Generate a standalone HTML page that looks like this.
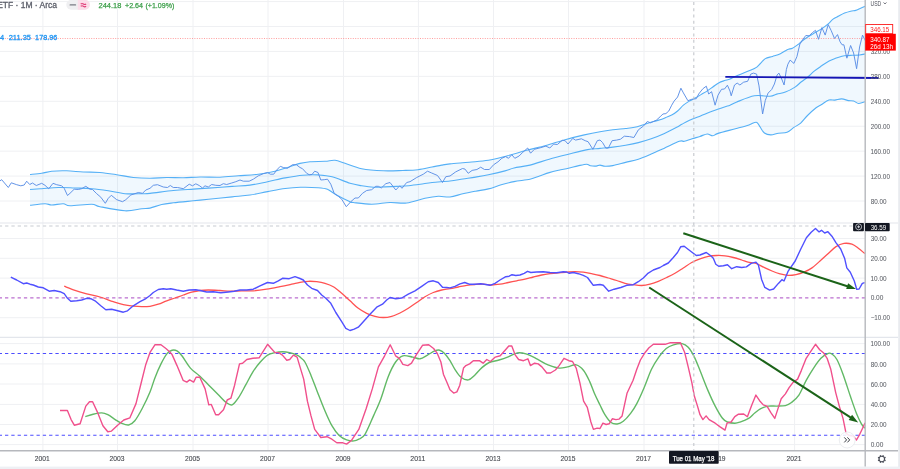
<!DOCTYPE html><html><head><meta charset="utf-8"><title>Chart</title><style>html,body{margin:0;padding:0;background:#fff;overflow:hidden;}svg{display:block;}text{font-family:"Liberation Sans",Arial,sans-serif;white-space:pre;}</style></head><body>
<svg width="900" height="469" viewBox="0 0 900 469">
<defs><clipPath id="cp"><rect x="0" y="0" width="865" height="223"/></clipPath><clipPath id="cm"><rect x="0" y="223.5" width="865" height="113.5"/></clipPath><clipPath id="cb"><rect x="0" y="337.8" width="865" height="112.5"/></clipPath></defs>
<rect x="0" y="0" width="900" height="469" fill="#ffffff"/>
<line x1="42.9" y1="0" x2="42.9" y2="450.8" stroke="#eff0f3" stroke-width="1"/>
<line x1="117.5" y1="0" x2="117.5" y2="450.8" stroke="#eff0f3" stroke-width="1"/>
<line x1="193.0" y1="0" x2="193.0" y2="450.8" stroke="#eff0f3" stroke-width="1"/>
<line x1="268.0" y1="0" x2="268.0" y2="450.8" stroke="#eff0f3" stroke-width="1"/>
<line x1="343.5" y1="0" x2="343.5" y2="450.8" stroke="#eff0f3" stroke-width="1"/>
<line x1="418.4" y1="0" x2="418.4" y2="450.8" stroke="#eff0f3" stroke-width="1"/>
<line x1="493.5" y1="0" x2="493.5" y2="450.8" stroke="#eff0f3" stroke-width="1"/>
<line x1="568.5" y1="0" x2="568.5" y2="450.8" stroke="#eff0f3" stroke-width="1"/>
<line x1="644.0" y1="0" x2="644.0" y2="450.8" stroke="#eff0f3" stroke-width="1"/>
<line x1="718.7" y1="0" x2="718.7" y2="450.8" stroke="#eff0f3" stroke-width="1"/>
<line x1="794.6" y1="0" x2="794.6" y2="450.8" stroke="#eff0f3" stroke-width="1"/>
<line x1="0" y1="1.57" x2="865.2" y2="1.57" stroke="#eff0f3" stroke-width="1"/>
<line x1="0" y1="26.50" x2="865.2" y2="26.50" stroke="#eff0f3" stroke-width="1"/>
<line x1="0" y1="51.43" x2="865.2" y2="51.43" stroke="#eff0f3" stroke-width="1"/>
<line x1="0" y1="76.36" x2="865.2" y2="76.36" stroke="#eff0f3" stroke-width="1"/>
<line x1="0" y1="101.29" x2="865.2" y2="101.29" stroke="#eff0f3" stroke-width="1"/>
<line x1="0" y1="126.22" x2="865.2" y2="126.22" stroke="#eff0f3" stroke-width="1"/>
<line x1="0" y1="151.15" x2="865.2" y2="151.15" stroke="#eff0f3" stroke-width="1"/>
<line x1="0" y1="176.08" x2="865.2" y2="176.08" stroke="#eff0f3" stroke-width="1"/>
<line x1="0" y1="201.01" x2="865.2" y2="201.01" stroke="#eff0f3" stroke-width="1"/>
<line x1="0" y1="238.50" x2="865.2" y2="238.50" stroke="#eff0f3" stroke-width="1"/>
<line x1="0" y1="258.30" x2="865.2" y2="258.30" stroke="#eff0f3" stroke-width="1"/>
<line x1="0" y1="278.10" x2="865.2" y2="278.10" stroke="#eff0f3" stroke-width="1"/>
<line x1="0" y1="317.70" x2="865.2" y2="317.70" stroke="#eff0f3" stroke-width="1"/>
<line x1="0" y1="343.60" x2="865.2" y2="343.60" stroke="#eff0f3" stroke-width="1"/>
<line x1="0" y1="363.90" x2="865.2" y2="363.90" stroke="#eff0f3" stroke-width="1"/>
<line x1="0" y1="384.00" x2="865.2" y2="384.00" stroke="#eff0f3" stroke-width="1"/>
<line x1="0" y1="404.40" x2="865.2" y2="404.40" stroke="#eff0f3" stroke-width="1"/>
<line x1="0" y1="424.50" x2="865.2" y2="424.50" stroke="#eff0f3" stroke-width="1"/>
<line x1="0" y1="444.60" x2="865.2" y2="444.60" stroke="#eff0f3" stroke-width="1"/>
<line x1="0" y1="223.0" x2="898" y2="223.0" stroke="#e3e6ec" stroke-width="1.2"/>
<line x1="0" y1="337.3" x2="898" y2="337.3" stroke="#e3e6ec" stroke-width="1.2"/>
<g clip-path="url(#cp)">
<path d="M30.00,174.50 C31.95,174.30 38.08,173.85 41.70,173.30 C45.32,172.75 47.53,171.62 51.70,171.20 C55.87,170.78 61.43,170.67 66.70,170.80 C71.97,170.93 77.75,171.72 83.30,172.00 C88.85,172.28 94.43,172.05 100.00,172.50 C105.57,172.95 111.15,173.87 116.70,174.70 C122.25,175.53 127.75,176.90 133.30,177.50 C138.85,178.10 144.43,178.30 150.00,178.30 C155.57,178.30 161.15,177.58 166.70,177.50 C172.25,177.42 177.75,177.88 183.30,177.80 C188.85,177.72 193.88,177.10 200.00,177.00 C206.12,176.90 213.62,177.40 220.00,177.20 C226.38,177.00 231.92,176.30 238.30,175.80 C244.68,175.30 252.18,174.97 258.30,174.20 C264.42,173.43 270.00,172.37 275.00,171.20 C280.00,170.03 284.13,168.50 288.30,167.20 C292.47,165.90 296.38,164.32 300.00,163.40 C303.62,162.48 305.83,162.05 310.00,161.70 C314.17,161.35 320.83,161.53 325.00,161.30 C329.17,161.07 331.67,159.97 335.00,160.30 C338.33,160.63 340.55,161.90 345.00,163.30 C349.45,164.70 355.32,167.45 361.70,168.70 C368.08,169.95 376.45,170.50 383.30,170.80 C390.15,171.10 397.02,170.68 402.80,170.50 C408.58,170.32 413.12,170.28 418.00,169.70 C422.88,169.12 428.15,167.77 432.10,167.00 C436.05,166.23 438.72,165.62 441.70,165.10 C444.68,164.58 445.42,164.38 450.00,163.90 C454.58,163.42 462.80,162.80 469.20,162.20 C475.60,161.60 482.02,161.38 488.40,160.30 C494.78,159.22 501.12,157.37 507.50,155.70 C513.88,154.03 520.30,152.00 526.70,150.30 C533.10,148.60 539.50,147.27 545.90,145.50 C552.30,143.73 558.70,141.47 565.10,139.70 C571.50,137.93 578.48,136.23 584.30,134.90 C590.12,133.57 595.25,132.55 600.00,131.70 C604.75,130.85 608.53,130.33 612.80,129.80 C617.07,129.27 621.98,128.92 625.60,128.50 C629.22,128.08 631.52,127.93 634.50,127.30 C637.48,126.67 640.30,125.67 643.50,124.70 C646.70,123.73 650.95,122.32 653.70,121.50 C656.45,120.68 657.97,120.47 660.00,119.80 C662.03,119.13 663.95,118.28 665.90,117.50 C667.85,116.72 669.75,116.18 671.70,115.10 C673.65,114.02 675.65,112.65 677.60,111.00 C679.55,109.35 681.45,106.85 683.40,105.20 C685.35,103.55 687.33,102.28 689.30,101.10 C691.27,99.92 693.25,99.18 695.20,98.10 C697.15,97.02 699.05,95.77 701.00,94.60 C702.95,93.43 704.93,92.37 706.90,91.10 C708.87,89.83 710.85,88.37 712.80,87.00 C714.75,85.63 716.65,83.97 718.60,82.90 C720.55,81.83 722.60,81.23 724.50,80.60 C726.40,79.97 728.03,79.88 730.00,79.10 C731.97,78.32 732.23,77.65 736.30,75.90 C740.37,74.15 750.47,70.58 754.40,68.60 C758.33,66.62 758.08,65.67 759.90,64.00 C761.72,62.33 763.18,59.87 765.30,58.60 C767.42,57.33 770.08,57.22 772.60,56.40 C775.12,55.58 777.97,54.82 780.40,53.70 C782.83,52.58 785.20,50.62 787.20,49.70 C789.20,48.78 790.67,49.02 792.40,48.20 C794.13,47.38 795.98,46.00 797.60,44.80 C799.22,43.60 800.48,42.25 802.10,41.00 C803.72,39.75 805.18,38.67 807.30,37.30 C809.42,35.93 812.32,34.28 814.80,32.80 C817.28,31.32 819.97,29.88 822.20,28.40 C824.43,26.92 826.45,25.40 828.20,23.90 C829.95,22.40 830.95,20.70 832.70,19.40 C834.45,18.10 836.72,17.15 838.70,16.10 C840.68,15.05 842.62,13.92 844.60,13.10 C846.58,12.28 848.73,11.65 850.60,11.20 C852.47,10.75 854.30,10.82 855.80,10.40 C857.30,9.98 857.98,9.40 859.60,8.70 C861.22,8.00 864.52,6.62 865.50,6.20 L865.5,101.6 865.50,101.60 C864.37,101.92 860.68,103.60 858.70,103.50 C856.72,103.40 855.30,101.48 853.60,101.00 C851.90,100.52 850.48,100.95 848.50,100.60 C846.52,100.25 843.98,98.98 841.70,98.90 C839.42,98.82 836.93,99.90 834.80,100.10 C832.67,100.30 831.17,99.33 828.90,100.10 C826.63,100.87 823.33,103.42 821.20,104.70 C819.07,105.98 818.38,106.00 816.10,107.80 C813.82,109.60 810.07,112.95 807.50,115.50 C804.93,118.05 802.97,121.12 800.70,123.10 C798.43,125.08 796.17,125.87 793.90,127.40 C791.63,128.93 789.67,131.33 787.10,132.30 C784.53,133.27 781.22,132.77 778.50,133.20 C775.78,133.63 773.15,134.93 770.80,134.90 C768.45,134.87 766.22,134.37 764.40,133.00 C762.58,131.63 761.25,128.50 759.90,126.70 C758.55,124.90 758.12,122.50 756.30,122.20 C754.48,121.90 752.33,123.85 749.00,124.90 C745.67,125.95 741.45,127.08 736.30,128.50 C731.15,129.92 722.03,132.18 718.10,133.40 C714.17,134.62 714.50,135.70 712.70,135.80 C710.90,135.90 709.42,133.90 707.30,134.00 C705.18,134.10 702.53,135.60 700.00,136.40 C697.47,137.20 694.70,137.98 692.10,138.80 C689.50,139.62 686.53,140.88 684.40,141.30 C682.27,141.72 682.72,140.12 679.30,141.30 C675.88,142.48 668.58,146.27 663.90,148.40 C659.22,150.53 655.45,152.30 651.20,154.10 C646.95,155.90 642.67,157.82 638.40,159.20 C634.13,160.58 629.87,161.33 625.60,162.40 C621.33,163.47 616.22,164.95 612.80,165.60 C609.38,166.25 607.23,166.38 605.10,166.30 C602.97,166.22 601.48,165.13 600.00,165.10 C598.52,165.07 597.80,166.00 596.20,166.10 C594.60,166.20 592.00,166.02 590.40,165.70 C588.80,165.38 588.68,164.17 586.60,164.20 C584.52,164.23 580.93,165.22 577.90,165.90 C574.87,166.58 571.58,167.58 568.40,168.30 C565.22,169.02 562.00,169.48 558.80,170.20 C555.60,170.92 552.40,171.63 549.20,172.60 C546.00,173.57 542.80,174.88 539.60,176.00 C536.40,177.12 534.27,178.37 530.00,179.30 C525.73,180.23 518.80,180.68 514.00,181.60 C509.20,182.52 505.47,183.58 501.20,184.80 C496.93,186.02 492.67,187.83 488.40,188.90 C484.13,189.97 479.87,190.38 475.60,191.20 C471.33,192.02 467.07,192.83 462.80,193.80 C458.53,194.77 454.08,196.58 450.00,197.00 C445.92,197.42 442.47,196.08 438.30,196.30 C434.13,196.52 430.27,197.18 425.00,198.30 C419.73,199.42 412.53,202.30 406.70,203.00 C400.87,203.70 395.83,202.30 390.00,202.50 C384.17,202.70 377.82,204.20 371.70,204.20 C365.58,204.20 356.92,202.90 353.30,202.50 C349.68,202.10 352.95,203.13 350.00,201.80 C347.05,200.47 339.37,196.58 335.60,194.50 C331.83,192.42 330.33,190.43 327.40,189.30 C324.47,188.17 322.50,188.03 318.00,187.70 C313.50,187.37 305.87,187.17 300.40,187.30 C294.93,187.43 290.67,187.78 285.20,188.50 C279.73,189.22 273.47,190.52 267.60,191.60 C261.73,192.68 255.92,194.12 250.00,195.00 C244.08,195.88 239.00,196.18 232.10,196.90 C225.20,197.62 215.05,198.65 208.60,199.30 C202.15,199.95 199.27,200.22 193.40,200.80 C187.53,201.38 178.68,202.18 173.40,202.80 C168.12,203.42 165.60,203.62 161.70,204.50 C157.80,205.38 153.33,207.40 150.00,208.10 C146.67,208.80 145.87,208.25 141.70,208.70 C137.53,209.15 131.95,211.13 125.00,210.80 C118.05,210.47 105.55,207.80 100.00,206.70 C94.45,205.60 96.70,204.35 91.70,204.20 C86.70,204.05 74.73,205.88 70.00,205.80 C65.27,205.72 66.35,203.83 63.30,203.70 C60.25,203.57 54.75,205.00 51.70,205.00 C48.65,205.00 48.62,203.65 45.00,203.70 C41.38,203.75 32.50,205.03 30.00,205.30 Z" fill="#2196f3" fill-opacity="0.065"/>
<line x1="0" y1="38.5" x2="865.2" y2="38.5" stroke="#f66" stroke-opacity="0.7" stroke-width="0.9" stroke-dasharray="1 1.4"/>
<path d="M30.00,174.50 C31.95,174.30 38.08,173.85 41.70,173.30 C45.32,172.75 47.53,171.62 51.70,171.20 C55.87,170.78 61.43,170.67 66.70,170.80 C71.97,170.93 77.75,171.72 83.30,172.00 C88.85,172.28 94.43,172.05 100.00,172.50 C105.57,172.95 111.15,173.87 116.70,174.70 C122.25,175.53 127.75,176.90 133.30,177.50 C138.85,178.10 144.43,178.30 150.00,178.30 C155.57,178.30 161.15,177.58 166.70,177.50 C172.25,177.42 177.75,177.88 183.30,177.80 C188.85,177.72 193.88,177.10 200.00,177.00 C206.12,176.90 213.62,177.40 220.00,177.20 C226.38,177.00 231.92,176.30 238.30,175.80 C244.68,175.30 252.18,174.97 258.30,174.20 C264.42,173.43 270.00,172.37 275.00,171.20 C280.00,170.03 284.13,168.50 288.30,167.20 C292.47,165.90 296.38,164.32 300.00,163.40 C303.62,162.48 305.83,162.05 310.00,161.70 C314.17,161.35 320.83,161.53 325.00,161.30 C329.17,161.07 331.67,159.97 335.00,160.30 C338.33,160.63 340.55,161.90 345.00,163.30 C349.45,164.70 355.32,167.45 361.70,168.70 C368.08,169.95 376.45,170.50 383.30,170.80 C390.15,171.10 397.02,170.68 402.80,170.50 C408.58,170.32 413.12,170.28 418.00,169.70 C422.88,169.12 428.15,167.77 432.10,167.00 C436.05,166.23 438.72,165.62 441.70,165.10 C444.68,164.58 445.42,164.38 450.00,163.90 C454.58,163.42 462.80,162.80 469.20,162.20 C475.60,161.60 482.02,161.38 488.40,160.30 C494.78,159.22 501.12,157.37 507.50,155.70 C513.88,154.03 520.30,152.00 526.70,150.30 C533.10,148.60 539.50,147.27 545.90,145.50 C552.30,143.73 558.70,141.47 565.10,139.70 C571.50,137.93 578.48,136.23 584.30,134.90 C590.12,133.57 595.25,132.55 600.00,131.70 C604.75,130.85 608.53,130.33 612.80,129.80 C617.07,129.27 621.98,128.92 625.60,128.50 C629.22,128.08 631.52,127.93 634.50,127.30 C637.48,126.67 640.30,125.67 643.50,124.70 C646.70,123.73 650.95,122.32 653.70,121.50 C656.45,120.68 657.97,120.47 660.00,119.80 C662.03,119.13 663.95,118.28 665.90,117.50 C667.85,116.72 669.75,116.18 671.70,115.10 C673.65,114.02 675.65,112.65 677.60,111.00 C679.55,109.35 681.45,106.85 683.40,105.20 C685.35,103.55 687.33,102.28 689.30,101.10 C691.27,99.92 693.25,99.18 695.20,98.10 C697.15,97.02 699.05,95.77 701.00,94.60 C702.95,93.43 704.93,92.37 706.90,91.10 C708.87,89.83 710.85,88.37 712.80,87.00 C714.75,85.63 716.65,83.97 718.60,82.90 C720.55,81.83 722.60,81.23 724.50,80.60 C726.40,79.97 728.03,79.88 730.00,79.10 C731.97,78.32 732.23,77.65 736.30,75.90 C740.37,74.15 750.47,70.58 754.40,68.60 C758.33,66.62 758.08,65.67 759.90,64.00 C761.72,62.33 763.18,59.87 765.30,58.60 C767.42,57.33 770.08,57.22 772.60,56.40 C775.12,55.58 777.97,54.82 780.40,53.70 C782.83,52.58 785.20,50.62 787.20,49.70 C789.20,48.78 790.67,49.02 792.40,48.20 C794.13,47.38 795.98,46.00 797.60,44.80 C799.22,43.60 800.48,42.25 802.10,41.00 C803.72,39.75 805.18,38.67 807.30,37.30 C809.42,35.93 812.32,34.28 814.80,32.80 C817.28,31.32 819.97,29.88 822.20,28.40 C824.43,26.92 826.45,25.40 828.20,23.90 C829.95,22.40 830.95,20.70 832.70,19.40 C834.45,18.10 836.72,17.15 838.70,16.10 C840.68,15.05 842.62,13.92 844.60,13.10 C846.58,12.28 848.73,11.65 850.60,11.20 C852.47,10.75 854.30,10.82 855.80,10.40 C857.30,9.98 857.98,9.40 859.60,8.70 C861.22,8.00 864.52,6.62 865.50,6.20" fill="none" stroke="#55b0f6" stroke-width="1.1" stroke-linejoin="round"/>
<path d="M30.00,189.50 C31.95,189.37 36.98,189.03 41.70,188.70 C46.42,188.37 52.75,187.62 58.30,187.50 C63.85,187.38 69.43,187.80 75.00,188.00 C80.57,188.20 86.15,188.23 91.70,188.70 C97.25,189.17 102.75,189.97 108.30,190.80 C113.85,191.63 119.43,193.22 125.00,193.70 C130.57,194.18 137.53,193.75 141.70,193.70 C145.87,193.65 144.72,193.93 150.00,193.40 C155.28,192.87 166.17,191.22 173.40,190.50 C180.63,189.78 187.53,189.50 193.40,189.10 C199.27,188.70 202.15,188.55 208.60,188.10 C215.05,187.65 225.20,186.90 232.10,186.40 C239.00,185.90 244.08,185.88 250.00,185.10 C255.92,184.32 261.73,182.90 267.60,181.70 C273.47,180.50 279.33,178.98 285.20,177.90 C291.07,176.82 297.33,175.70 302.80,175.20 C308.27,174.70 313.12,174.65 318.00,174.90 C322.88,175.15 326.77,175.30 332.10,176.70 C337.43,178.10 345.07,181.80 350.00,183.30 C354.93,184.80 357.80,185.05 361.70,185.70 C365.60,186.35 369.48,187.00 373.40,187.20 C377.32,187.40 381.28,187.03 385.20,186.90 C389.12,186.77 393.00,186.60 396.90,186.40 C400.80,186.20 404.70,186.05 408.60,185.70 C412.50,185.35 416.38,184.83 420.30,184.30 C424.22,183.77 427.15,183.05 432.10,182.50 C437.05,181.95 444.88,181.58 450.00,181.00 C455.12,180.42 458.53,179.65 462.80,179.00 C467.07,178.35 471.33,177.80 475.60,177.10 C479.87,176.40 483.50,175.83 488.40,174.80 C493.30,173.77 500.73,172.03 505.00,170.90 C509.27,169.77 509.83,168.97 514.00,168.00 C518.17,167.03 524.13,166.57 530.00,165.10 C535.87,163.63 542.80,161.02 549.20,159.20 C555.60,157.38 562.02,155.80 568.40,154.20 C574.78,152.60 582.23,150.57 587.50,149.60 C592.77,148.63 595.78,148.82 600.00,148.40 C604.22,147.98 608.53,147.63 612.80,147.10 C617.07,146.57 621.33,145.95 625.60,145.20 C629.87,144.45 634.13,143.67 638.40,142.60 C642.67,141.53 646.95,140.28 651.20,138.80 C655.45,137.32 659.65,135.62 663.90,133.70 C668.15,131.78 673.72,128.87 676.70,127.30 C679.68,125.73 679.67,125.47 681.80,124.30 C683.93,123.13 686.30,121.73 689.50,120.30 C692.70,118.87 697.12,117.25 701.00,115.70 C704.88,114.15 708.88,112.47 712.80,111.00 C716.72,109.53 721.63,107.87 724.50,106.90 C727.37,105.93 728.03,105.98 730.00,105.20 C731.97,104.42 732.23,103.77 736.30,102.20 C740.37,100.63 748.78,96.78 754.40,95.80 C760.02,94.82 766.27,96.58 770.00,96.30 C773.73,96.02 774.23,94.80 776.80,94.10 C779.37,93.40 782.37,93.27 785.40,92.10 C788.43,90.93 792.33,88.82 795.00,87.10 C797.67,85.38 799.27,83.48 801.40,81.80 C803.53,80.12 805.67,78.78 807.80,77.00 C809.93,75.22 811.88,72.97 814.20,71.10 C816.52,69.23 819.22,67.48 821.70,65.80 C824.18,64.12 826.80,62.25 829.10,61.00 C831.40,59.75 833.37,59.10 835.50,58.30 C837.63,57.50 840.32,56.63 841.90,56.20 C843.48,55.77 843.30,55.85 845.00,55.70 C846.70,55.55 849.67,55.42 852.10,55.30 C854.53,55.18 857.37,55.23 859.60,55.00 C861.83,54.77 864.52,54.08 865.50,53.90" fill="none" stroke="#55b0f6" stroke-width="1.1" stroke-linejoin="round"/>
<path d="M30.00,205.30 C32.50,205.03 41.38,203.75 45.00,203.70 C48.62,203.65 48.65,205.00 51.70,205.00 C54.75,205.00 60.25,203.57 63.30,203.70 C66.35,203.83 65.27,205.72 70.00,205.80 C74.73,205.88 86.70,204.05 91.70,204.20 C96.70,204.35 94.45,205.60 100.00,206.70 C105.55,207.80 118.05,210.47 125.00,210.80 C131.95,211.13 137.53,209.15 141.70,208.70 C145.87,208.25 146.67,208.80 150.00,208.10 C153.33,207.40 157.80,205.38 161.70,204.50 C165.60,203.62 168.12,203.42 173.40,202.80 C178.68,202.18 187.53,201.38 193.40,200.80 C199.27,200.22 202.15,199.95 208.60,199.30 C215.05,198.65 225.20,197.62 232.10,196.90 C239.00,196.18 244.08,195.88 250.00,195.00 C255.92,194.12 261.73,192.68 267.60,191.60 C273.47,190.52 279.73,189.22 285.20,188.50 C290.67,187.78 294.93,187.43 300.40,187.30 C305.87,187.17 313.50,187.37 318.00,187.70 C322.50,188.03 324.47,188.17 327.40,189.30 C330.33,190.43 331.83,192.42 335.60,194.50 C339.37,196.58 347.05,200.47 350.00,201.80 C352.95,203.13 349.68,202.10 353.30,202.50 C356.92,202.90 365.58,204.20 371.70,204.20 C377.82,204.20 384.17,202.70 390.00,202.50 C395.83,202.30 400.87,203.70 406.70,203.00 C412.53,202.30 419.73,199.42 425.00,198.30 C430.27,197.18 434.13,196.52 438.30,196.30 C442.47,196.08 445.92,197.42 450.00,197.00 C454.08,196.58 458.53,194.77 462.80,193.80 C467.07,192.83 471.33,192.02 475.60,191.20 C479.87,190.38 484.13,189.97 488.40,188.90 C492.67,187.83 496.93,186.02 501.20,184.80 C505.47,183.58 509.20,182.52 514.00,181.60 C518.80,180.68 525.73,180.23 530.00,179.30 C534.27,178.37 536.40,177.12 539.60,176.00 C542.80,174.88 546.00,173.57 549.20,172.60 C552.40,171.63 555.60,170.92 558.80,170.20 C562.00,169.48 565.22,169.02 568.40,168.30 C571.58,167.58 574.87,166.58 577.90,165.90 C580.93,165.22 584.52,164.23 586.60,164.20 C588.68,164.17 588.80,165.38 590.40,165.70 C592.00,166.02 594.60,166.20 596.20,166.10 C597.80,166.00 598.52,165.07 600.00,165.10 C601.48,165.13 602.97,166.22 605.10,166.30 C607.23,166.38 609.38,166.25 612.80,165.60 C616.22,164.95 621.33,163.47 625.60,162.40 C629.87,161.33 634.13,160.58 638.40,159.20 C642.67,157.82 646.95,155.90 651.20,154.10 C655.45,152.30 659.22,150.53 663.90,148.40 C668.58,146.27 675.88,142.48 679.30,141.30 C682.72,140.12 682.27,141.72 684.40,141.30 C686.53,140.88 689.50,139.62 692.10,138.80 C694.70,137.98 697.47,137.20 700.00,136.40 C702.53,135.60 705.18,134.10 707.30,134.00 C709.42,133.90 710.90,135.90 712.70,135.80 C714.50,135.70 714.17,134.62 718.10,133.40 C722.03,132.18 731.15,129.92 736.30,128.50 C741.45,127.08 745.67,125.95 749.00,124.90 C752.33,123.85 754.48,121.90 756.30,122.20 C758.12,122.50 758.55,124.90 759.90,126.70 C761.25,128.50 762.58,131.63 764.40,133.00 C766.22,134.37 768.45,134.87 770.80,134.90 C773.15,134.93 775.78,133.63 778.50,133.20 C781.22,132.77 784.53,133.27 787.10,132.30 C789.67,131.33 791.63,128.93 793.90,127.40 C796.17,125.87 798.43,125.08 800.70,123.10 C802.97,121.12 804.93,118.05 807.50,115.50 C810.07,112.95 813.82,109.60 816.10,107.80 C818.38,106.00 819.07,105.98 821.20,104.70 C823.33,103.42 826.63,100.87 828.90,100.10 C831.17,99.33 832.67,100.30 834.80,100.10 C836.93,99.90 839.42,98.82 841.70,98.90 C843.98,98.98 846.52,100.25 848.50,100.60 C850.48,100.95 851.90,100.52 853.60,101.00 C855.30,101.48 856.72,103.40 858.70,103.50 C860.68,103.60 864.37,101.92 865.50,101.60" fill="none" stroke="#55b0f6" stroke-width="1.1" stroke-linejoin="round"/>
<polyline points="0.0,180.8 1.7,179.7 8.3,187.5 11.3,182.8 16.7,184.7 20.8,185.8 24.2,185.0 26.7,181.2 29.7,184.5 32.5,183.0 36.3,185.5 41.7,183.3 45.0,185.3 48.7,188.8 53.0,183.3 56.7,184.7 61.7,185.8 64.2,188.3 67.5,195.5 70.0,193.3 74.2,189.2 78.3,189.5 81.7,188.7 85.8,186.3 90.0,189.2 92.5,189.5 96.7,193.7 100.8,197.2 105.3,203.3 108.3,198.3 111.3,195.3 116.7,199.7 122.5,201.7 125.8,199.7 130.8,195.0 138.3,192.5 142.5,193.3 145.8,190.0 150.0,188.3 153.3,185.3 157.5,184.7 163.3,187.0 167.5,187.5 170.3,185.5 173.3,187.5 177.5,187.5 183.3,188.7 189.2,184.2 192.5,185.8 195.8,183.8 199.2,185.5 202.5,188.0 205.0,185.8 208.3,187.0 211.7,184.5 215.8,185.3 220.0,185.5 223.3,183.7 226.7,184.5 231.7,183.0 235.8,181.7 240.0,180.0 243.3,181.2 249.2,181.2 253.3,179.2 258.3,175.8 263.3,173.7 267.5,172.5 270.3,174.2 273.7,174.2 276.7,170.0 280.3,166.3 283.3,167.5 287.5,168.3 292.5,164.7 296.3,164.7 300.0,167.5 302.5,168.7 306.7,173.3 309.2,174.7 312.0,174.5 314.7,171.2 318.0,172.5 320.8,180.0 324.2,179.7 327.5,179.2 330.8,184.2 334.2,193.3 338.3,196.3 341.7,199.2 346.3,206.7 350.8,201.7 355.0,198.0 358.3,198.0 362.5,193.3 366.7,190.5 371.7,189.7 375.8,186.3 378.3,186.3 381.3,188.0 385.8,183.7 390.0,182.5 395.8,190.0 399.7,185.8 402.0,188.3 406.7,182.5 410.0,181.7 416.7,177.5 423.3,174.2 427.5,171.2 431.7,173.0 437.5,175.5 442.5,182.5 445.8,176.7 450.0,176.0 455.8,171.8 462.5,168.5 465.0,169.1 468.2,173.3 472.1,170.4 476.9,169.5 480.7,167.2 484.5,169.5 489.3,169.5 493.7,164.7 498.0,161.8 501.8,158.3 505.6,156.6 508.5,158.3 511.8,154.7 514.8,158.3 519.1,156.0 522.9,152.2 527.7,148.0 530.6,153.2 534.4,149.3 540.2,147.8 545.9,146.1 549.8,148.0 553.6,144.1 557.4,144.5 562.2,140.3 565.1,140.7 568.0,144.0 572.8,138.4 575.6,140.1 581.4,138.8 585.2,140.7 588.1,141.7 592.9,149.3 597.3,140.7 600.0,140.0 602.6,142.6 605.8,148.1 608.3,148.1 612.1,140.7 616.6,140.1 620.5,139.2 624.3,136.2 629.4,136.6 633.9,137.5 638.4,129.8 643.5,126.0 647.3,121.5 650.5,122.8 656.3,120.2 660.0,116.9 662.9,114.0 665.9,113.6 668.8,111.0 671.7,105.2 674.1,101.1 677.6,97.0 680.9,88.2 683.4,92.9 687.9,100.7 691.7,99.3 696.3,98.7 698.7,94.0 702.8,88.8 706.3,86.2 708.7,94.0 711.6,91.7 715.1,105.2 718.0,95.2 721.5,89.3 724.5,89.0 727.4,85.2 730.0,91.1 731.2,95.8 734.5,85.0 737.2,83.1 739.9,85.0 743.6,82.2 747.6,81.3 750.8,74.1 753.5,73.1 756.6,74.1 759.0,85.9 762.6,114.0 765.3,100.4 768.1,93.1 771.7,89.5 774.4,84.0 777.1,75.0 778.9,73.1 781.7,79.0 784.1,85.0 786.4,69.4 787.9,64.2 790.1,60.1 793.9,63.4 796.9,56.7 799.9,44.0 803.1,39.1 805.8,35.5 809.1,35.8 812.5,32.5 815.5,30.3 818.5,39.3 821.9,27.6 825.2,35.1 828.2,24.6 831.2,30.6 834.5,38.5 837.5,34.6 840.1,41.8 842.1,44.8 843.9,44.8 846.9,58.2 850.6,45.5 853.6,53.0 856.6,68.7 859.6,47.0 862.5,35.1 865.5,41.0" fill="none" stroke="#5b8ee6" stroke-width="0.95" stroke-linejoin="round"/>
</g>
<g clip-path="url(#cm)">
<line x1="0" y1="297.9" x2="865.2" y2="297.9" stroke="#bb6fcf" stroke-width="1.3" stroke-dasharray="3.3 3" stroke-dashoffset="1.3"/>
<path d="M64.20,286.20 C66.00,286.88 71.25,289.03 75.00,290.30 C78.75,291.57 82.53,292.68 86.70,293.80 C90.87,294.92 95.57,295.68 100.00,297.00 C104.43,298.32 109.42,300.42 113.30,301.70 C117.18,302.98 119.97,303.95 123.30,304.70 C126.63,305.45 130.23,305.87 133.30,306.20 C136.37,306.53 138.92,306.68 141.70,306.70 C144.48,306.72 147.23,306.72 150.00,306.30 C152.77,305.88 155.52,305.12 158.30,304.20 C161.08,303.28 163.92,301.83 166.70,300.80 C169.48,299.77 172.23,298.97 175.00,298.00 C177.77,297.03 180.52,295.97 183.30,295.00 C186.08,294.03 188.92,292.95 191.70,292.20 C194.48,291.45 197.23,290.87 200.00,290.50 C202.77,290.13 204.97,290.00 208.30,290.00 C211.63,290.00 216.38,290.30 220.00,290.50 C223.62,290.70 226.38,291.15 230.00,291.20 C233.62,291.25 237.82,290.87 241.70,290.80 C245.58,290.73 249.13,291.07 253.30,290.80 C257.47,290.53 262.25,289.88 266.70,289.20 C271.15,288.52 275.83,287.53 280.00,286.70 C284.17,285.87 288.37,284.93 291.70,284.20 C295.03,283.47 297.23,282.78 300.00,282.30 C302.77,281.82 305.52,281.40 308.30,281.30 C311.08,281.20 313.92,281.37 316.70,281.70 C319.48,282.03 322.23,282.47 325.00,283.30 C327.77,284.13 330.52,285.03 333.30,286.70 C336.08,288.37 338.92,290.95 341.70,293.30 C344.48,295.65 347.23,298.30 350.00,300.80 C352.77,303.30 355.52,306.22 358.30,308.30 C361.08,310.38 363.92,311.97 366.70,313.30 C369.48,314.63 372.23,315.60 375.00,316.30 C377.77,317.00 380.52,317.50 383.30,317.50 C386.08,317.50 388.92,317.05 391.70,316.30 C394.48,315.55 397.23,314.33 400.00,313.00 C402.77,311.67 405.52,310.05 408.30,308.30 C411.08,306.55 413.92,304.43 416.70,302.50 C419.48,300.57 422.23,298.37 425.00,296.70 C427.77,295.03 430.52,293.62 433.30,292.50 C436.08,291.38 438.92,290.63 441.70,290.00 C444.48,289.37 447.23,289.20 450.00,288.70 C452.77,288.20 455.52,287.57 458.30,287.00 C461.08,286.43 463.92,285.72 466.70,285.30 C469.48,284.88 472.23,284.68 475.00,284.50 C477.77,284.32 480.52,284.12 483.30,284.20 C486.08,284.28 488.92,285.00 491.70,285.00 C494.48,285.00 497.23,284.62 500.00,284.20 C502.77,283.78 505.52,283.07 508.30,282.50 C511.08,281.93 513.92,281.35 516.70,280.80 C519.48,280.25 522.23,279.83 525.00,279.20 C527.77,278.57 530.52,277.70 533.30,277.00 C536.08,276.30 538.92,275.55 541.70,275.00 C544.48,274.45 547.23,274.07 550.00,273.70 C552.77,273.33 555.52,273.05 558.30,272.80 C561.08,272.55 563.92,272.38 566.70,272.20 C569.48,272.02 572.23,271.70 575.00,271.70 C577.77,271.70 580.52,271.87 583.30,272.20 C586.08,272.53 588.92,273.15 591.70,273.70 C594.48,274.25 597.23,274.78 600.00,275.50 C602.77,276.22 605.52,277.17 608.30,278.00 C611.08,278.83 613.92,279.62 616.70,280.50 C619.48,281.38 622.23,282.60 625.00,283.30 C627.77,284.00 630.52,284.33 633.30,284.70 C636.08,285.07 638.92,285.58 641.70,285.50 C644.48,285.42 647.23,284.90 650.00,284.20 C652.77,283.50 655.52,282.42 658.30,281.30 C661.08,280.18 663.92,278.83 666.70,277.50 C669.48,276.17 672.23,274.88 675.00,273.30 C677.77,271.72 680.52,269.80 683.30,268.00 C686.08,266.20 688.92,264.03 691.70,262.50 C694.48,260.97 697.23,259.83 700.00,258.80 C702.77,257.77 705.52,256.85 708.30,256.30 C711.08,255.75 713.92,255.58 716.70,255.50 C719.48,255.42 722.23,255.47 725.00,255.80 C727.77,256.13 730.52,256.80 733.30,257.50 C736.08,258.20 739.25,259.23 741.70,260.00 C744.15,260.77 745.62,261.53 748.00,262.10 C750.38,262.67 753.33,262.52 756.00,263.40 C758.67,264.28 761.33,266.13 764.00,267.40 C766.67,268.67 769.33,269.93 772.00,271.00 C774.67,272.07 777.33,273.07 780.00,273.80 C782.67,274.53 785.33,275.27 788.00,275.40 C790.67,275.53 793.33,275.13 796.00,274.60 C798.67,274.07 801.33,273.32 804.00,272.20 C806.67,271.08 809.33,269.77 812.00,267.90 C814.67,266.03 817.33,263.35 820.00,261.00 C822.67,258.65 825.33,256.20 828.00,253.80 C830.67,251.40 833.33,248.33 836.00,246.60 C838.67,244.87 841.35,243.80 844.00,243.40 C846.65,243.00 849.52,243.40 851.90,244.20 C854.28,245.00 856.17,246.65 858.30,248.20 C860.43,249.75 863.63,252.62 864.70,253.50" fill="none" stroke="#ff5252" stroke-width="1.3" stroke-linejoin="round"/>
<polyline points="10.8,277.2 16.7,280.0 23.3,283.7 26.7,283.0 30.0,284.2 33.3,285.0 38.3,287.0 43.3,287.8 49.2,291.2 54.2,290.5 60.0,291.7 64.2,293.7 67.5,298.3 70.8,301.2 76.7,300.8 81.7,300.0 86.7,298.3 90.8,298.7 95.0,300.8 100.8,305.8 105.8,309.7 111.7,309.2 116.7,310.5 123.3,312.2 127.5,310.8 133.3,305.8 140.0,301.7 145.0,299.2 150.0,295.5 153.3,292.5 158.3,289.5 163.3,288.8 166.7,289.3 170.8,288.7 176.7,290.0 183.3,291.3 189.2,290.0 195.8,289.7 200.0,290.5 206.7,292.0 213.3,291.7 220.8,292.8 228.3,292.0 234.2,291.3 240.0,290.0 246.7,290.0 253.3,289.2 260.0,285.8 267.5,282.5 273.3,283.3 278.3,280.8 282.5,278.3 289.2,278.7 295.0,276.7 300.0,278.5 303.3,280.0 307.5,285.0 311.7,288.3 317.5,290.5 321.7,295.0 325.8,298.3 330.8,303.3 335.8,312.5 341.7,321.7 345.8,328.3 350.0,330.5 354.2,329.2 358.3,327.2 363.3,321.7 370.0,314.2 376.7,307.2 382.5,304.2 386.7,300.0 390.0,297.5 395.8,298.7 401.7,298.0 408.3,294.2 415.0,290.8 421.7,286.3 428.3,281.7 433.3,280.8 438.3,282.5 442.5,287.2 446.7,287.5 450.0,287.9 455.0,286.3 460.0,283.8 464.7,282.5 469.2,284.2 475.0,284.3 480.8,283.7 485.8,284.5 490.0,285.3 495.0,283.3 500.0,280.0 505.8,276.7 509.2,276.2 512.0,274.7 515.8,275.5 520.0,275.0 524.2,273.3 527.5,271.3 530.8,272.5 536.7,272.0 543.3,271.7 550.0,272.5 556.7,272.8 563.3,271.7 566.7,272.0 569.2,273.3 573.3,272.5 578.3,273.7 583.3,275.3 587.5,277.5 590.8,282.0 593.3,285.3 600.0,284.5 603.3,285.3 608.7,291.2 614.2,289.2 620.8,287.5 626.7,285.3 633.3,284.7 638.3,281.7 643.3,278.0 647.5,273.7 653.3,270.0 660.0,267.5 663.3,265.5 668.3,263.0 673.3,257.5 677.5,252.5 680.8,246.7 684.2,246.3 690.0,250.8 696.3,255.5 700.0,255.0 706.3,252.5 710.8,255.8 713.3,258.3 715.8,264.2 718.7,266.3 723.3,265.8 727.5,264.7 731.7,268.7 736.7,266.7 741.7,267.5 746.4,266.9 751.2,263.4 756.0,262.1 758.4,265.0 761.6,279.4 764.8,287.4 769.6,290.1 773.6,289.0 778.4,283.4 781.9,279.7 784.0,281.0 788.0,271.4 795.2,261.0 800.8,249.0 806.4,237.8 811.2,232.2 815.5,228.5 819.1,231.9 821.5,230.3 824.7,233.0 827.9,231.7 831.9,236.2 835.9,242.6 840.7,249.0 844.7,258.6 846.8,267.9 850.3,272.2 854.3,281.0 856.7,289.3 859.1,289.0 862.3,283.4 864.7,282.6" fill="none" stroke="#5050ff" stroke-width="1.4" stroke-linejoin="round"/>
</g>
<g clip-path="url(#cb)">
<line x1="0" y1="353.5" x2="865.2" y2="353.5" stroke="#4d4dff" stroke-width="1.1" stroke-dasharray="3.3 3" stroke-dashoffset="1.3"/>
<line x1="0" y1="435.2" x2="865.2" y2="435.2" stroke="#4d4dff" stroke-width="1.1" stroke-dasharray="3.3 3" stroke-dashoffset="1.3"/>
<path d="M85.30,416.60 C86.60,416.20 90.37,414.82 93.10,414.20 C95.83,413.58 99.25,412.82 101.70,412.90 C104.15,412.98 105.55,413.58 107.80,414.70 C110.05,415.82 112.95,418.18 115.20,419.60 C117.45,421.02 119.05,422.30 121.30,423.20 C123.55,424.10 126.45,425.40 128.70,425.00 C130.95,424.60 132.55,423.55 134.80,420.80 C137.05,418.05 139.67,413.30 142.20,408.50 C144.73,403.70 147.88,397.10 150.00,392.00 C152.12,386.90 153.07,382.58 154.90,377.90 C156.73,373.22 158.95,367.98 161.00,363.90 C163.05,359.82 165.35,355.68 167.20,353.40 C169.05,351.12 170.47,350.62 172.10,350.20 C173.73,349.78 175.37,349.97 177.00,350.90 C178.63,351.83 179.67,352.93 181.90,355.80 C184.13,358.67 187.55,364.83 190.40,368.10 C193.25,371.37 195.93,372.55 199.00,375.40 C202.07,378.25 205.53,381.93 208.80,385.20 C212.07,388.47 215.73,392.13 218.60,395.00 C221.47,397.87 223.75,400.75 226.00,402.40 C228.25,404.05 230.07,405.60 232.10,404.90 C234.13,404.20 235.95,401.48 238.20,398.20 C240.45,394.92 243.15,389.60 245.60,385.20 C248.05,380.80 250.45,375.67 252.90,371.80 C255.35,367.93 257.85,364.78 260.30,362.00 C262.75,359.22 265.15,356.67 267.60,355.10 C270.05,353.53 272.53,353.17 275.00,352.60 C277.47,352.03 279.95,351.70 282.40,351.70 C284.85,351.70 287.25,352.03 289.70,352.60 C292.15,353.17 295.38,354.35 297.10,355.10 C298.82,355.85 298.70,355.95 300.00,357.10 C301.30,358.25 303.07,358.95 304.90,362.00 C306.73,365.05 308.95,370.50 311.00,375.40 C313.05,380.30 314.95,385.67 317.20,391.40 C319.45,397.13 322.05,404.08 324.50,409.80 C326.95,415.52 329.45,421.42 331.90,425.70 C334.35,429.98 336.75,433.13 339.20,435.50 C341.65,437.87 344.15,439.00 346.60,439.90 C349.05,440.80 351.87,441.02 353.90,440.90 C355.93,440.78 356.95,440.30 358.80,439.20 C360.65,438.10 362.55,438.18 365.00,434.30 C367.45,430.42 370.85,421.83 373.50,415.90 C376.15,409.97 378.45,405.23 380.90,398.70 C383.35,392.17 385.75,382.82 388.20,376.70 C390.65,370.58 393.15,365.48 395.60,362.00 C398.05,358.52 400.05,356.62 402.90,355.80 C405.75,354.98 409.83,356.60 412.70,357.10 C415.57,357.60 417.63,359.13 420.10,358.80 C422.57,358.47 425.05,356.42 427.50,355.10 C429.95,353.78 432.77,351.72 434.80,350.90 C436.83,350.08 438.07,349.78 439.70,350.20 C441.33,350.62 442.88,351.65 444.60,353.40 C446.32,355.15 448.28,358.05 450.00,360.70 C451.72,363.35 453.07,366.55 454.90,369.30 C456.73,372.05 458.75,375.43 461.00,377.20 C463.25,378.97 466.15,380.20 468.40,379.90 C470.65,379.60 472.25,377.45 474.50,375.40 C476.75,373.35 479.45,369.75 481.90,367.60 C484.35,365.45 486.35,363.77 489.20,362.50 C492.05,361.23 495.73,360.98 499.00,360.00 C502.27,359.02 505.73,357.78 508.80,356.60 C511.87,355.42 514.53,353.35 517.40,352.90 C520.27,352.45 522.93,353.00 526.00,353.90 C529.07,354.80 532.13,356.47 535.80,358.30 C539.47,360.13 544.12,363.27 548.00,364.90 C551.88,366.53 555.83,367.77 559.10,368.10 C562.37,368.43 564.75,367.43 567.60,366.90 C570.45,366.37 573.53,364.30 576.20,364.90 C578.87,365.50 581.35,367.72 583.60,370.50 C585.85,373.28 587.87,377.72 589.70,381.60 C591.53,385.48 592.88,389.90 594.60,393.80 C596.32,397.70 598.28,401.52 600.00,405.00 C601.72,408.48 603.07,411.78 604.90,414.70 C606.73,417.62 608.95,420.95 611.00,422.50 C613.05,424.05 615.15,424.20 617.20,424.00 C619.25,423.80 621.07,423.07 623.30,421.30 C625.53,419.53 628.35,416.35 630.60,413.40 C632.85,410.45 634.55,407.88 636.80,403.60 C639.05,399.32 641.65,393.42 644.10,387.70 C646.55,381.98 649.05,374.40 651.50,369.30 C653.95,364.20 656.35,360.57 658.80,357.10 C661.25,353.63 663.75,350.55 666.20,348.50 C668.65,346.45 670.85,345.62 673.50,344.80 C676.15,343.98 679.65,343.18 682.10,343.60 C684.55,344.02 686.15,345.05 688.20,347.30 C690.25,349.55 692.35,353.02 694.40,357.10 C696.45,361.18 698.27,366.30 700.50,371.80 C702.73,377.30 705.35,384.38 707.80,390.10 C710.25,395.82 712.75,401.40 715.20,406.10 C717.65,410.80 720.45,415.65 722.50,418.30 C724.55,420.95 725.45,421.18 727.50,422.00 C729.55,422.82 732.72,423.18 734.80,423.20 C736.88,423.22 737.70,422.90 740.00,422.10 C742.30,421.30 746.15,419.92 748.60,418.40 C751.05,416.88 752.67,414.63 754.70,413.00 C756.73,411.37 758.55,409.75 760.80,408.60 C763.05,407.45 765.53,406.52 768.20,406.10 C770.87,405.68 773.93,406.18 776.80,406.10 C779.67,406.02 782.95,406.20 785.40,405.60 C787.85,405.00 789.25,404.25 791.50,402.50 C793.75,400.75 796.45,398.78 798.90,395.10 C801.35,391.42 803.75,384.90 806.20,380.40 C808.65,375.90 811.15,371.78 813.60,368.10 C816.05,364.42 818.45,360.75 820.90,358.30 C823.35,355.85 826.45,354.10 828.30,353.40 C830.15,352.70 830.57,353.08 832.00,354.10 C833.43,355.12 835.07,356.15 836.90,359.50 C838.73,362.85 840.75,368.07 843.00,374.20 C845.25,380.33 848.15,389.75 850.40,396.30 C852.65,402.85 854.67,408.92 856.50,413.50 C858.33,418.08 859.97,421.35 861.40,423.80 C862.83,426.25 864.48,427.47 865.10,428.20" fill="none" stroke="#62b966" stroke-width="1.4" stroke-linejoin="round"/>
<polyline points="60.0,410.5 67.4,410.5 71.1,419.6 74.3,425.2 80.1,423.7 85.8,406.1 89.5,401.7 92.6,401.7 98.0,413.4 102.9,425.7 107.8,431.8 111.5,431.1 117.6,425.2 123.8,420.0 129.9,417.8 136.0,403.6 140.9,384.0 145.8,364.4 150.0,352.4 154.9,344.8 161.0,344.8 165.9,348.5 169.6,351.7 172.1,354.6 177.0,365.6 183.1,380.3 186.8,382.1 189.7,379.9 193.6,382.1 196.1,377.2 199.8,377.2 205.1,388.9 208.8,404.9 211.3,404.4 215.7,414.7 218.6,414.7 223.5,409.8 227.2,400.0 230.9,398.2 234.6,385.2 239.5,363.9 242.6,363.2 246.8,359.5 252.9,358.3 259.1,357.8 262.7,352.2 267.6,344.3 271.3,348.5 275.0,352.6 278.7,352.6 282.4,355.1 286.8,360.2 289.7,359.5 293.4,355.1 297.1,357.1 300.0,366.9 303.7,379.1 307.4,401.2 311.0,415.9 314.7,429.4 320.8,437.5 327.0,436.7 331.9,439.2 336.8,442.8 342.9,442.8 346.6,444.1 351.5,440.4 358.8,429.4 366.2,408.5 372.3,388.9 378.4,366.9 384.6,355.8 390.2,344.8 395.6,355.8 399.3,358.3 402.9,364.4 407.8,365.6 411.5,363.2 416.4,354.6 422.5,345.3 428.7,344.8 433.6,348.5 437.3,353.4 440.9,362.0 443.4,374.2 447.1,382.8 450.0,389.8 453.7,393.1 456.9,391.9 459.8,385.2 463.5,368.1 465.9,365.6 469.6,363.9 473.3,360.7 479.4,360.7 483.1,363.2 486.8,359.5 490.4,361.5 495.3,357.1 500.2,355.8 505.1,350.2 508.8,346.0 511.8,346.0 515.0,354.6 518.6,359.5 523.5,360.7 527.9,358.8 530.4,365.6 534.6,363.2 538.2,363.9 541.9,366.9 546.8,373.0 550.5,373.0 555.4,370.0 559.1,365.6 564.0,358.3 568.9,360.7 572.5,361.5 576.2,368.1 579.9,382.8 583.6,401.2 587.3,407.3 590.9,422.0 593.4,429.4 597.1,428.1 600.0,428.5 602.9,423.2 606.1,424.5 609.3,423.7 612.3,418.8 615.9,419.6 619.1,419.1 622.1,415.9 627.0,393.3 633.1,380.3 636.8,369.3 640.4,360.0 645.3,352.2 649.0,347.7 653.4,344.3 660.0,344.3 665.0,344.3 669.9,342.8 676.0,342.8 680.4,342.8 684.6,352.2 688.2,366.9 691.9,382.8 694.4,396.3 697.5,406.1 700.0,414.7 702.9,419.6 706.1,415.9 709.1,419.6 715.2,423.2 720.1,426.9 725.0,430.1 727.0,423.2 731.1,422.0 734.8,416.6 738.5,414.2 743.7,414.0 747.4,416.7 751.8,404.9 755.9,395.1 759.6,400.7 763.3,404.9 767.0,406.1 770.7,412.3 774.8,418.4 778.0,408.6 781.2,398.8 785.4,393.9 789.1,387.7 792.7,382.8 797.6,379.1 801.3,370.6 806.2,358.3 811.1,350.9 815.5,344.3 819.7,349.7 823.4,352.7 827.1,358.3 830.8,369.3 835.7,392.6 839.3,406.1 843.0,418.4 846.0,433.1 849.1,435.6 853.3,436.1 856.5,440.0 859.7,434.3 862.6,428.2 865.1,422.8" fill="none" stroke="#f0508c" stroke-width="1.4" stroke-linejoin="round"/>
</g>
<line x1="693.8" y1="0" x2="693.8" y2="450.8" stroke="#c3c6cc" stroke-width="1.1" stroke-dasharray="3 3.3" stroke-dashoffset="4.4"/>
<line x1="0" y1="226" x2="853" y2="226" stroke="#c8cbd1" stroke-width="1.1" stroke-dasharray="3.3 3" stroke-dashoffset="1.2"/>
<line x1="725.3" y1="76.8" x2="878.6" y2="78.0" stroke="#1515b5" stroke-width="1.8"/>
<line x1="683.3" y1="233.3" x2="848.10" y2="286.45" stroke="#1b6318" stroke-width="2"/>
<polygon points="856.0,289.0 846.20,289.10 848.10,283.19" fill="#1b6318"/>
<line x1="649.2" y1="287.5" x2="851.23" y2="417.90" stroke="#1b6318" stroke-width="2"/>
<polygon points="858.2,422.4 848.71,419.96 852.07,414.75" fill="#1b6318"/>
<line x1="865.2" y1="0" x2="865.2" y2="466.7" stroke="#b6b8bd" stroke-width="1.4"/>
<line x1="0" y1="450.8" x2="898" y2="450.8" stroke="#b6b8bd" stroke-width="1.4"/>
<rect x="898.2" y="0" width="1.8" height="469" fill="#e9ebef"/>
<rect x="0" y="466.6" width="900" height="2.4" fill="#eef0f4"/>
<text x="870.67" y="29.10" font-size="7.0" fill="#5c5f66" textLength="19.28" lengthAdjust="spacingAndGlyphs" stroke="#5c5f66" stroke-width="0.05" stroke-linejoin="round">360.00</text>
<text x="870.67" y="54.00" font-size="7.0" fill="#5c5f66" textLength="19.28" lengthAdjust="spacingAndGlyphs" stroke="#5c5f66" stroke-width="0.05" stroke-linejoin="round">320.00</text>
<text x="870.67" y="78.80" font-size="7.0" fill="#5c5f66" textLength="19.28" lengthAdjust="spacingAndGlyphs" stroke="#5c5f66" stroke-width="0.05" stroke-linejoin="round">280.00</text>
<text x="870.67" y="103.90" font-size="7.0" fill="#5c5f66" textLength="19.28" lengthAdjust="spacingAndGlyphs" stroke="#5c5f66" stroke-width="0.05" stroke-linejoin="round">240.00</text>
<text x="870.67" y="128.80" font-size="7.0" fill="#5c5f66" textLength="19.28" lengthAdjust="spacingAndGlyphs" stroke="#5c5f66" stroke-width="0.05" stroke-linejoin="round">200.00</text>
<text x="870.44" y="153.70" font-size="7.0" fill="#5c5f66" textLength="19.51" lengthAdjust="spacingAndGlyphs" stroke="#5c5f66" stroke-width="0.05" stroke-linejoin="round">160.00</text>
<text x="870.44" y="178.70" font-size="7.0" fill="#5c5f66" textLength="19.51" lengthAdjust="spacingAndGlyphs" stroke="#5c5f66" stroke-width="0.05" stroke-linejoin="round">120.00</text>
<text x="870.67" y="203.60" font-size="7.0" fill="#5c5f66" textLength="15.88" lengthAdjust="spacingAndGlyphs" stroke="#5c5f66" stroke-width="0.05" stroke-linejoin="round">80.00</text>
<text x="870.67" y="241.10" font-size="7.0" fill="#5c5f66" textLength="15.88" lengthAdjust="spacingAndGlyphs" stroke="#5c5f66" stroke-width="0.05" stroke-linejoin="round">30.00</text>
<text x="870.67" y="260.90" font-size="7.0" fill="#5c5f66" textLength="15.88" lengthAdjust="spacingAndGlyphs" stroke="#5c5f66" stroke-width="0.05" stroke-linejoin="round">20.00</text>
<text x="870.44" y="280.70" font-size="7.0" fill="#5c5f66" textLength="16.12" lengthAdjust="spacingAndGlyphs" stroke="#5c5f66" stroke-width="0.05" stroke-linejoin="round">10.00</text>
<text x="870.67" y="300.30" font-size="7.0" fill="#5c5f66" textLength="12.65" lengthAdjust="spacingAndGlyphs" stroke="#5c5f66" stroke-width="0.05" stroke-linejoin="round">0.00</text>
<text x="870.67" y="320.00" font-size="7.0" fill="#5c5f66" textLength="19.45" lengthAdjust="spacingAndGlyphs" stroke="#5c5f66" stroke-width="0.05" stroke-linejoin="round">−10.00</text>
<text x="870.44" y="346.20" font-size="7.0" fill="#5c5f66" textLength="19.51" lengthAdjust="spacingAndGlyphs" stroke="#5c5f66" stroke-width="0.05" stroke-linejoin="round">100.00</text>
<text x="870.67" y="366.50" font-size="7.0" fill="#5c5f66" textLength="15.88" lengthAdjust="spacingAndGlyphs" stroke="#5c5f66" stroke-width="0.05" stroke-linejoin="round">80.00</text>
<text x="870.67" y="386.60" font-size="7.0" fill="#5c5f66" textLength="15.88" lengthAdjust="spacingAndGlyphs" stroke="#5c5f66" stroke-width="0.05" stroke-linejoin="round">60.00</text>
<text x="870.67" y="407.00" font-size="7.0" fill="#5c5f66" textLength="15.88" lengthAdjust="spacingAndGlyphs" stroke="#5c5f66" stroke-width="0.05" stroke-linejoin="round">40.00</text>
<text x="870.67" y="427.10" font-size="7.0" fill="#5c5f66" textLength="15.88" lengthAdjust="spacingAndGlyphs" stroke="#5c5f66" stroke-width="0.05" stroke-linejoin="round">20.00</text>
<text x="870.67" y="447.10" font-size="7.0" fill="#5c5f66" textLength="12.65" lengthAdjust="spacingAndGlyphs" stroke="#5c5f66" stroke-width="0.05" stroke-linejoin="round">0.00</text>
<text x="870.51" y="6.00" font-size="6.6" fill="#50535e" textLength="10.82" lengthAdjust="spacingAndGlyphs">USD</text>
<path d="M883.5,2.5 L885,3.9 L886.5,2.5" fill="none" stroke="#50535e" stroke-width="0.8"/>
<rect x="865.7" y="24.5" width="27" height="9.2" fill="#fff" stroke="#ff1f1f" stroke-width="0.9"/>
<text x="870.26" y="31.50" font-size="6.6" fill="#ff1f1f" textLength="19.00" lengthAdjust="spacingAndGlyphs">346.15</text>
<rect x="865.2" y="33.8" width="30.6" height="16.8" fill="#ff0000"/>
<text x="870.36" y="41.70" font-size="6.6" fill="#fff" textLength="19.24" lengthAdjust="spacingAndGlyphs">340.87</text>
<text x="870.36" y="48.80" font-size="6.6" fill="#fff" textLength="22.56" lengthAdjust="spacingAndGlyphs">26d 13h</text>
<rect x="853.1" y="222.9" width="10.8" height="8.4" rx="0.8" fill="#131722"/>
<circle cx="858.6" cy="226.8" r="3.0" fill="none" stroke="#c8cbd2" stroke-width="0.85"/>
<path d="M858.6,225.4 L858.6,228.2 M857.2,226.8 L860,226.8" stroke="#d8dae0" stroke-width="0.95"/>
<rect x="865" y="222.9" width="24.7" height="8.4" rx="0.8" fill="#131722"/>
<text x="870.66" y="229.50" font-size="6.6" fill="#fff" textLength="15.59" lengthAdjust="spacingAndGlyphs">36.59</text>
<text x="34.86" y="460.90" font-size="7.0" fill="#44474e" textLength="14.96" lengthAdjust="spacingAndGlyphs" stroke="#44474e" stroke-width="0.1" stroke-linejoin="round">2001</text>
<text x="109.46" y="460.90" font-size="7.0" fill="#44474e" textLength="14.96" lengthAdjust="spacingAndGlyphs" stroke="#44474e" stroke-width="0.1" stroke-linejoin="round">2003</text>
<text x="184.96" y="460.90" font-size="7.0" fill="#44474e" textLength="14.96" lengthAdjust="spacingAndGlyphs" stroke="#44474e" stroke-width="0.1" stroke-linejoin="round">2005</text>
<text x="259.96" y="460.90" font-size="7.0" fill="#44474e" textLength="14.96" lengthAdjust="spacingAndGlyphs" stroke="#44474e" stroke-width="0.1" stroke-linejoin="round">2007</text>
<text x="335.46" y="460.90" font-size="7.0" fill="#44474e" textLength="14.96" lengthAdjust="spacingAndGlyphs" stroke="#44474e" stroke-width="0.1" stroke-linejoin="round">2009</text>
<text x="410.35" y="460.90" font-size="7.0" fill="#44474e" textLength="14.96" lengthAdjust="spacingAndGlyphs" stroke="#44474e" stroke-width="0.1" stroke-linejoin="round">2011</text>
<text x="485.46" y="460.90" font-size="7.0" fill="#44474e" textLength="14.96" lengthAdjust="spacingAndGlyphs" stroke="#44474e" stroke-width="0.1" stroke-linejoin="round">2013</text>
<text x="560.46" y="460.90" font-size="7.0" fill="#44474e" textLength="14.96" lengthAdjust="spacingAndGlyphs" stroke="#44474e" stroke-width="0.1" stroke-linejoin="round">2015</text>
<text x="635.96" y="460.90" font-size="7.0" fill="#44474e" textLength="14.96" lengthAdjust="spacingAndGlyphs" stroke="#44474e" stroke-width="0.1" stroke-linejoin="round">2017</text>
<text x="710.66" y="460.90" font-size="7.0" fill="#44474e" textLength="14.96" lengthAdjust="spacingAndGlyphs" stroke="#44474e" stroke-width="0.1" stroke-linejoin="round">2019</text>
<text x="786.56" y="460.90" font-size="7.0" fill="#44474e" textLength="14.96" lengthAdjust="spacingAndGlyphs" stroke="#44474e" stroke-width="0.1" stroke-linejoin="round">2021</text>
<rect x="669" y="451.1" width="49.7" height="12.7" rx="0.8" fill="#131722"/>
<text x="672.68" y="460.80" font-size="7.0" fill="#fff" textLength="41.76" lengthAdjust="spacingAndGlyphs" stroke="#fff" stroke-width="0.25" stroke-linejoin="round">Tue 01 May &#39;18</text>
<circle cx="881.8" cy="459.0" r="2.75" fill="none" stroke="#4a4e58" stroke-width="1.1"/>
<line x1="884.48" y1="460.11" x2="885.59" y2="460.57" stroke="#4a4e58" stroke-width="1.3"/>
<line x1="882.91" y1="461.68" x2="883.37" y2="462.79" stroke="#4a4e58" stroke-width="1.3"/>
<line x1="880.69" y1="461.68" x2="880.23" y2="462.79" stroke="#4a4e58" stroke-width="1.3"/>
<line x1="879.12" y1="460.11" x2="878.01" y2="460.57" stroke="#4a4e58" stroke-width="1.3"/>
<line x1="879.12" y1="457.89" x2="878.01" y2="457.43" stroke="#4a4e58" stroke-width="1.3"/>
<line x1="880.69" y1="456.32" x2="880.23" y2="455.21" stroke="#4a4e58" stroke-width="1.3"/>
<line x1="882.91" y1="456.32" x2="883.37" y2="455.21" stroke="#4a4e58" stroke-width="1.3"/>
<line x1="884.48" y1="457.89" x2="885.59" y2="457.43" stroke="#4a4e58" stroke-width="1.3"/>
<circle cx="847.2" cy="440" r="8" fill="#ffffff" fill-opacity="0.85" stroke="#e6e8ec" stroke-width="0.8"/>
<path d="M844.3,437.4 L846.6,439.9 L844.3,442.4 M847.4,437.4 L849.7,439.9 L847.4,442.4" fill="none" stroke="#3b3e45" stroke-width="1"/>
<text x="-2.65" y="8.30" font-size="8.5" fill="#5d606b" textLength="5.67" lengthAdjust="spacingAndGlyphs" stroke="#5d606b" stroke-width="0.3" stroke-linejoin="round">E</text>
<text x="2.75" y="8.30" font-size="8.5" fill="#5d606b" textLength="54.31" lengthAdjust="spacingAndGlyphs" stroke="#5d606b" stroke-width="0.3" stroke-linejoin="round">TF · 1M · Arca</text>
<rect x="66.3" y="-0.2" width="23.5" height="10" rx="5" fill="#efeff1"/>
<path d="M77.8,-0.2 L84.8,-0.2 A5,5 0 0 1 84.8,9.8 L77.8,9.8 Z" fill="#fcdde9"/>
<line x1="70.2" y1="4.9" x2="75.5" y2="4.9" stroke="#7a7c84" stroke-width="1.4" stroke-linecap="round"/>
<path d="M80.7,4.0 q1.35,-1.1 2.7,0 t2.7,0 M80.7,6.3 q1.35,-1.1 2.7,0 t2.7,0" fill="none" stroke="#e0407a" stroke-width="1.1"/>
<text x="98.56" y="8.40" font-size="7.7" fill="#3a9e48" textLength="22.90" lengthAdjust="spacingAndGlyphs" stroke="#3a9e48" stroke-width="0.25" stroke-linejoin="round">244.18</text>
<text x="124.97" y="8.40" font-size="7.7" fill="#3a9e48" textLength="18.02" lengthAdjust="spacingAndGlyphs" stroke="#3a9e48" stroke-width="0.25" stroke-linejoin="round">+2.64</text>
<text x="145.44" y="8.40" font-size="7.7" fill="#3a9e48" textLength="28.85" lengthAdjust="spacingAndGlyphs" stroke="#3a9e48" stroke-width="0.25" stroke-linejoin="round">(+1.09%)</text>
<text x="-4.00" y="40.00" font-size="7.4" fill="#2196f3" textLength="8.23" lengthAdjust="spacingAndGlyphs" stroke="#2196f3" stroke-width="0.3" stroke-linejoin="round">74</text>
<text x="8.65" y="40.00" font-size="7.4" fill="#2196f3" textLength="22.37" lengthAdjust="spacingAndGlyphs" stroke="#2196f3" stroke-width="0.3" stroke-linejoin="round">211.35</text>
<text x="35.11" y="40.00" font-size="7.4" fill="#2196f3" textLength="22.14" lengthAdjust="spacingAndGlyphs" stroke="#2196f3" stroke-width="0.3" stroke-linejoin="round">178.96</text>
</svg></body></html>
